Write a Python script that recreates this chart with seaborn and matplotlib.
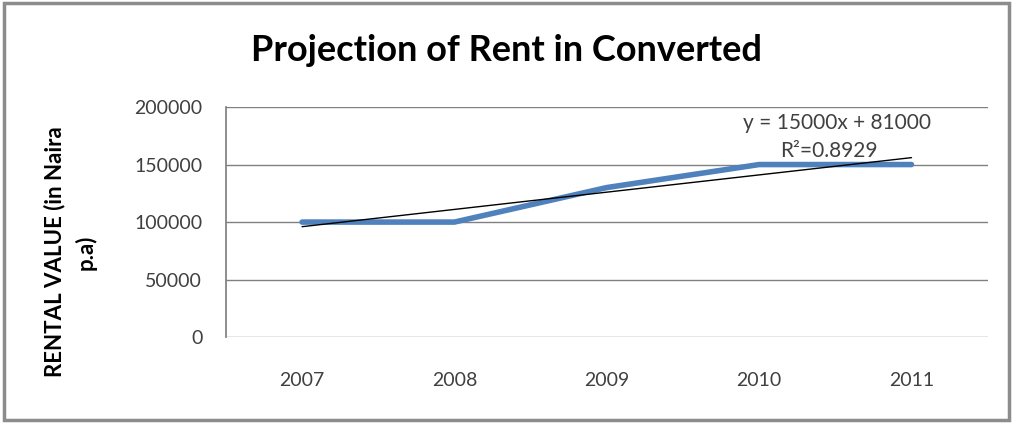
import numpy as np
import pandas as pd
import seaborn as sns
import matplotlib.pyplot as plt
from matplotlib.patches import Rectangle

years = ["2007", "2008", "2009", "2010", "2011"]
rent = [100000, 100000, 130000, 150000, 150000]
yticks = [0, 50000, 100000, 150000, 200000]

sns.set_theme(style="white")
plt.rcParams["font.family"] = ["Lato", "DejaVu Sans"]

df = pd.DataFrame({"pos": np.arange(len(years)), "rent": rent})

# linear trendline like Excel's
xs = np.arange(1, len(rent) + 1)
slope, icpt = np.polyfit(xs, rent, 1)
fit = slope * xs + icpt
r2 = 1 - np.sum((np.array(rent) - fit) ** 2) / np.sum((np.array(rent) - np.mean(rent)) ** 2)

fig = plt.figure(figsize=(10.13, 4.23), dpi=100)
ax = fig.add_axes([0.223, 0.203, 0.752, 0.544])

sns.lineplot(data=df, x="pos", y="rent", color="#4F81BD", linewidth=4, ax=ax)
ax.plot(df["pos"], fit, color="black", linewidth=1)

ax.set_xlim(-0.5, len(years) - 0.5)
ax.set_ylim(0, 200000)
ax.set_xticks(df["pos"])
ax.set_xticklabels(years)
ax.set_yticks(yticks)
ax.set_yticklabels([str(v) for v in yticks])
ax.tick_params(axis="both", labelsize=14, colors="#404040", length=0)
ax.tick_params(axis="x", pad=25)
ax.tick_params(axis="y", pad=17)
ax.yaxis.grid(True, color="#808080", linewidth=1)
ax.set_axisbelow(True)
for s in ["top", "right", "bottom"]:
    ax.spines[s].set_visible(False)
ax.spines["left"].set_color("#808080")
ax.set_xlabel("")
ax.set_ylabel("")

ax.text(3.51, 186000, f"y = {slope:.0f}x + {icpt:.0f}", ha="center", va="center",
        fontsize=15, color="#404040")
ax.text(3.46, 162000, f"R²=0.{round(r2 * 10000):04d}", ha="center", va="center",
        fontsize=15, color="#404040")

fig.text(0.5, 0.88, "Projection of Rent in Converted", ha="center", va="center",
         fontsize=26, fontweight="bold", color="black")
fig.text(0.069, 0.404, "RENTAL VALUE (in Naira\np.a)", ha="center", va="center",
         rotation=90, fontsize=16, fontweight="bold", color="black", linespacing=1.5)

fig.patches.append(Rectangle((0.004, 0.006), 0.992, 0.988, transform=fig.transFigure,
                             fill=False, edgecolor="#8c8c8c", linewidth=2.5))

fig.savefig("out.png", dpi=100, facecolor="white")
